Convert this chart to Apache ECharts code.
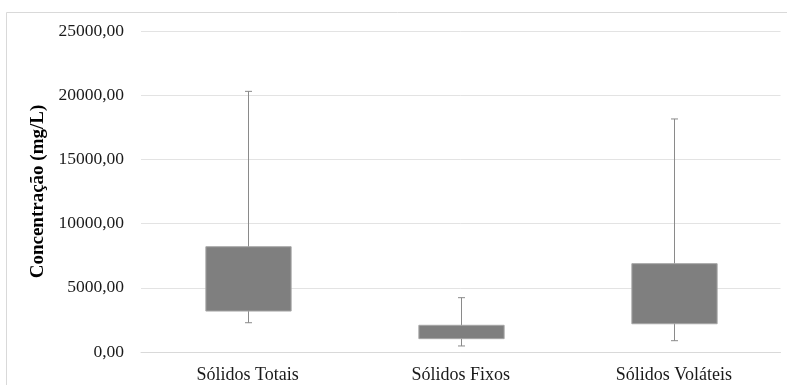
<!DOCTYPE html>
<html>
<head>
<meta charset="utf-8">
<script src="https://cdn.jsdelivr.net/npm/echarts@6/dist/echarts.min.js"></script>
<style>html,body{margin:0;padding:0;background:#fff}#c{width:787px;height:385px}</style>
</head>
<body>
<div id="c"></div>
<script>
const categories = ['Sólidos Totais', 'Sólidos Fixos', 'Sólidos Voláteis'];
const minVals = [2280, 470, 880];
const q1Vals = [3190, 1040, 2200];
const q3Vals = [8200, 2080, 6880];
const maxVals = [20300, 4230, 18150];
const yMin = 0, yMax = 25000, yStep = 5000;

const data = categories.map((c, i) => [i, minVals[i], q1Vals[i], q3Vals[i], maxVals[i]]);
const FONT = '"Liberation Serif", "Times New Roman", serif';

const chart = echarts.init(document.getElementById('c'), null, {renderer: 'canvas'});
chart.setOption({
  animation: false,
  backgroundColor: '#ffffff',
  graphic: [{
    type: 'rect', shape: {x: 6.5, y: 12.5, width: 800, height: 400},
    style: {fill: 'none', stroke: '#d9d9d9', lineWidth: 1}, z: -10
  }],
  grid: {left: 141, right: 6.5, top: 31, bottom: 33},
  xAxis: {
    type: 'category', data: categories,
    axisLine: {show: true, lineStyle: {color: '#d9d9d9', width: 1}},
    axisTick: {show: false},
    axisLabel: {color: '#1a1a1a', fontFamily: FONT, fontSize: 18, margin: 14}
  },
  yAxis: {
    type: 'value', min: yMin, max: yMax, interval: yStep,
    name: 'Concentração (mg/L)', nameLocation: 'middle', nameGap: 86, nameRotate: 90,
    nameTextStyle: {color: '#000', fontFamily: FONT, fontSize: 19, fontWeight: 'bold'},
    axisLine: {show: false}, axisTick: {show: false},
    splitLine: {lineStyle: {color: '#e3e3e3', width: 1}},
    axisLabel: {color: '#1a1a1a', fontFamily: FONT, fontSize: 17.5, margin: 17,
      formatter: v => v.toFixed(2).replace('.', ',')}
  },
  series: [{
    type: 'custom',
    data: data,
    renderItem: function (params, api) {
      const x = api.value(0);
      const pMin = api.coord([x, api.value(1)]);
      const pQ1 = api.coord([x, api.value(2)]);
      const pQ3 = api.coord([x, api.value(3)]);
      const pMax = api.coord([x, api.value(4)]);
      const band = api.size([1, 0])[0];
      const bw = band * 0.4;
      const cx = Math.round(pMin[0]) + 0.5;
      const cap = 3.5;
      const lineStyle = {stroke: '#8a8a8a', lineWidth: 1, fill: null};
      return {
        type: 'group',
        children: [
          {type: 'line', shape: {x1: cx, y1: pMin[1], x2: cx, y2: pMax[1]}, style: lineStyle},
          {type: 'line', shape: {x1: cx - cap, y1: pMin[1], x2: cx + cap, y2: pMin[1]}, style: lineStyle},
          {type: 'line', shape: {x1: cx - cap, y1: pMax[1], x2: cx + cap, y2: pMax[1]}, style: lineStyle},
          {type: 'rect', shape: {x: cx - bw / 2, y: pQ3[1], width: bw, height: pQ1[1] - pQ3[1]},
            style: {fill: '#7f7f7f', stroke: '#a6a6a6', lineWidth: 1}}
        ]
      };
    }
  }]
});
</script>
</body>
</html>
